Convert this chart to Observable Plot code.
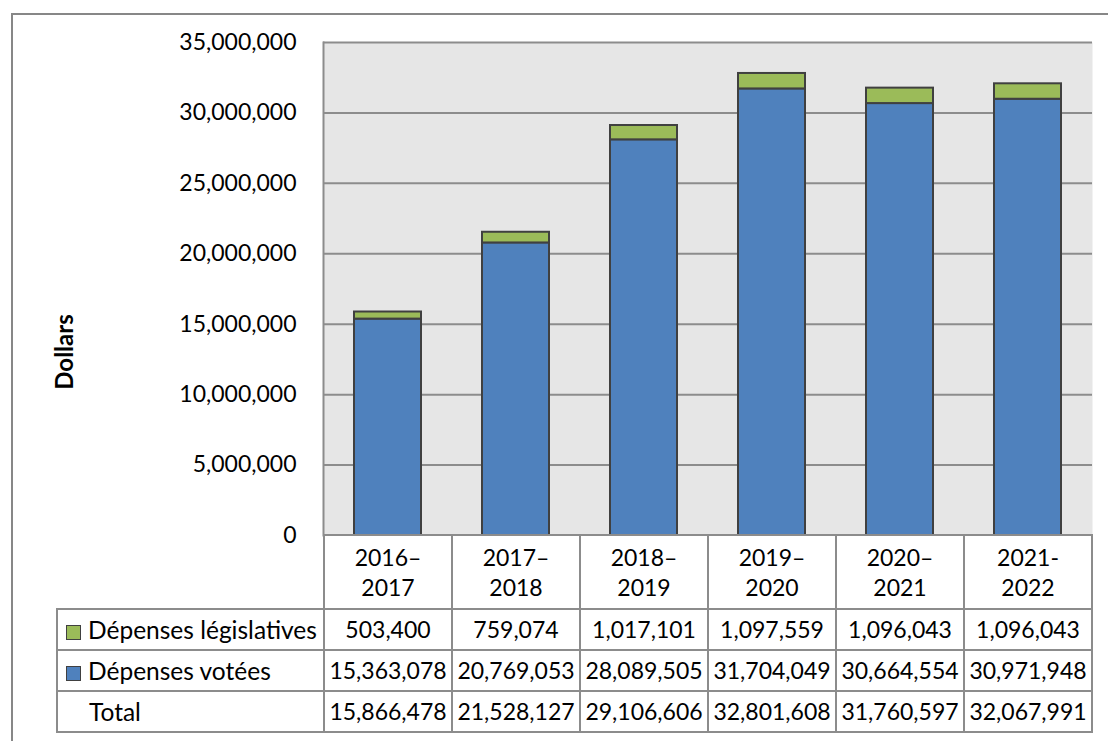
<!DOCTYPE html>
<html>
<head>
<meta charset="utf-8">
<script src="https://cdn.jsdelivr.net/npm/d3@7"></script>
<script src="https://cdn.jsdelivr.net/npm/@observablehq/plot@0.6"></script>
<style>
  html, body { margin: 0; padding: 0; background: #fff; }
  #wrap { position: relative; width: 1108px; height: 741px; overflow: hidden; font-family: Lato, "Open Sans", sans-serif; color: #000; }
  #outer { position: absolute; left: 11px; top: 13px; width: 1200px; height: 900px; border-left: 2px solid #878787; border-top: 2px solid #878787; box-sizing: border-box; }
  #chart { position: absolute; left: 0; top: 0; }
  #ylabel { position: absolute; font-weight: bold; font-size: 24px; white-space: nowrap; transform: translate(-50%, -50%) rotate(-90deg); }
  #tbl { position: absolute; border-collapse: collapse; table-layout: fixed; font-size: 23px; }
  #tbl td { border: 2px solid #8c8c8c; padding: 0; text-align: center; white-space: nowrap; background: #fff; overflow: visible; }
  #tbl tr.head td { height: 72px; line-height: 30px; }
  #tbl tr.head td.blank { border: none; background: transparent; }
  #tbl tr.body td { height: 39px; line-height: 39px; }
  #tbl td.lab { text-align: left; padding-left: 8px; font-size: 24.5px; }
  .sw { display: inline-block; width: 13px; height: 13px; border: 1.5px solid #404040; margin-right: 7px; vertical-align: -1px; }
  .nosw { display: inline-block; width: 16px; margin-right: 7px; }
</style>
</head>
<body>
<div id="wrap">
  <div id="outer"></div>
  <div id="chart"></div>
  <div id="ylabel">Dollars</div>
</div>
<script>
// ---- data ----
const years = ["2016–2017", "2017–2018", "2018–2019", "2019–2020", "2020–2021", "2021-2022"];
const yearLines = [["2016–", "2017"], ["2017–", "2018"], ["2018–", "2019"], ["2019–", "2020"], ["2020–", "2021"], ["2021-", "2022"]];
const legislatives = [503400, 759074, 1017101, 1097559, 1096043, 1096043];
const votees = [15363078, 20769053, 28089505, 31704049, 30664554, 30971948];
const totals = [15866478, 21528127, 29106606, 32801608, 31760597, 32067991];
const seriesNames = ["Dépenses législatives", "Dépenses votées"];
const seriesColors = ["#9BBB59", "#4F81BD"];
const yTicks = [0, 5000000, 10000000, 15000000, 20000000, 25000000, 30000000, 35000000];

// long table for the stacked bars (votées at bottom)
const rows = [];
years.forEach((yr, i) => {
  rows.push({year: yr, series: "Dépenses votées", value: votees[i]});
  rows.push({year: yr, series: "Dépenses législatives", value: legislatives[i]});
});

const fmt = d3.format(",");

const chart = Plot.plot({
  width: 1108,
  height: 535,
  marginLeft: 323,
  marginRight: 16,
  marginTop: 42,
  marginBottom: 0,
  style: {fontFamily: "Lato, 'Open Sans', sans-serif", fontSize: "23px", color: "#000", background: "transparent", overflow: "visible"},
  x: {domain: years, paddingInner: 0.477, paddingOuter: 0.2385, axis: null},
  y: {domain: [0, 35000000], axis: null},
  color: {domain: seriesNames, range: seriesColors},
  marks: [
    Plot.frame({fill: "#e6e6e6", stroke: null}),
    Plot.ruleY(yTicks, {stroke: "#8c8c8c", strokeWidth: 2}),
    Plot.frame({anchor: "left", stroke: "#8c8c8c", strokeWidth: 2}),
    Plot.barY(rows, {x: "year", y: "value", fill: "series", stroke: "#404040", strokeWidth: 2, order: ["Dépenses votées", "Dépenses législatives"]}),
    Plot.axisY({ticks: yTicks, tickSize: 0, tickPadding: 27, tickFormat: fmt, fill: "#000", label: null})
  ]
});
document.getElementById("chart").appendChild(chart);

// y label
const lab = document.getElementById("ylabel");
lab.style.left = "63px";
lab.style.top = "352px";

// data table aligned to the chart's x band scale
const xs = chart.scale("x");
const x0 = xs.range[0], x1 = xs.range[1];
const step = xs.step;
const tableLeft = 56;
const tbl = document.createElement("table");
tbl.id = "tbl";
tbl.style.left = tableLeft + "px";
tbl.style.top = (534) + "px";
tbl.style.width = (x1 - tableLeft) + "px";
const cg = document.createElement("colgroup");
const c0 = document.createElement("col"); c0.style.width = (x0 - tableLeft) + "px"; cg.appendChild(c0);
years.forEach(() => { const c = document.createElement("col"); c.style.width = step + "px"; cg.appendChild(c); });
tbl.appendChild(cg);

const head = document.createElement("tr"); head.className = "head";
const blank = document.createElement("td"); blank.className = "blank"; head.appendChild(blank);
yearLines.forEach(l => { const td = document.createElement("td"); td.innerHTML = l.join("<br>"); head.appendChild(td); });
tbl.appendChild(head);

const bodyRows = [
  {name: seriesNames[0], color: seriesColors[0], vals: legislatives},
  {name: seriesNames[1], color: seriesColors[1], vals: votees},
  {name: "Total", color: null, vals: totals}
];
bodyRows.forEach(r => {
  const tr = document.createElement("tr"); tr.className = "body";
  const td = document.createElement("td"); td.className = "lab";
  td.innerHTML = (r.color ? `<span class="sw" style="background:${r.color}"></span>` : `<span class="nosw"></span>`) + r.name;
  tr.appendChild(td);
  r.vals.forEach(v => { const c = document.createElement("td"); c.textContent = fmt(v); tr.appendChild(c); });
  tbl.appendChild(tr);
});
document.getElementById("wrap").appendChild(tbl);
</script>
</body>
</html>
